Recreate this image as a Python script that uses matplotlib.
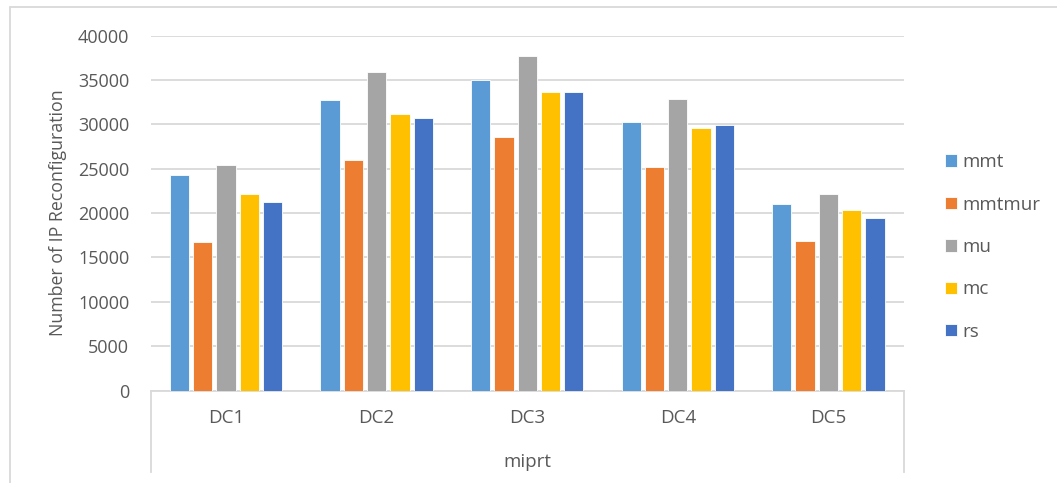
import matplotlib
matplotlib.use("Agg")
import matplotlib.pyplot as plt
from matplotlib.lines import Line2D
from matplotlib.patches import Rectangle
import numpy as np

categories = ["DC1", "DC2", "DC3", "DC4", "DC5"]
series_names = ["mmt", "mmtmur", "mu", "mc", "rs"]
mmt = [24300, 32800, 35000, 30300, 21000]
mmtmur = [16700, 26000, 28600, 25200, 16900]
mu = [25400, 35900, 37700, 32900, 22100]
mc = [22100, 31200, 33600, 29600, 20300]
rs = [21200, 30700, 33600, 29900, 19400]
group_title = "miprt"
y_label = "Number of IP Reconfiguration"
y_ticks = [0, 5000, 10000, 15000, 20000, 25000, 30000, 35000, 40000]

colors = ["#5B9BD5", "#ED7D31", "#A5A5A5", "#FFC000", "#4472C4"]
text_color = "#595959"
grid_color = "#D9D9D9"

plt.rcParams["font.family"] = ["Open Sans", "DejaVu Sans"]

W, H = 1057, 483
fig = plt.figure(figsize=(W / 100, H / 100), dpi=100)
ax_left, ax_right = 150.7 / W, 903.7 / W
ax_bottom, ax_top = 1 - 390.5 / H, 1 - 35.7 / H
ax = fig.add_axes([ax_left, ax_bottom, ax_right - ax_left, ax_top - ax_bottom])

x = np.arange(len(categories))
step = 0.1547
width = 0.128
values = [mmt, mmtmur, mu, mc, rs]
for i, (name, vals, col) in enumerate(zip(series_names, values, colors)):
    offset = (i - 2) * step
    ax.bar(x + offset, vals, width=width, color=col, edgecolor="white",
           linewidth=0.6, label=name, zorder=3)

ax.set_xlim(-0.5, len(categories) - 0.5)
ax.set_ylim(0, 40000)
ax.set_yticks(y_ticks)
ax.set_yticklabels([str(t) for t in y_ticks])
ax.tick_params(axis="y", length=0, pad=15.5, labelsize=13, labelcolor=text_color)
ax.set_xticks([])
ax.grid(axis="y", color=grid_color, linewidth=1.3, zorder=0)
for s in ["top", "right", "left"]:
    ax.spines[s].set_visible(False)
ax.spines["bottom"].set_color(grid_color)
ax.spines["bottom"].set_linewidth(1.3)

ax.set_ylabel(y_label, fontsize=12.8, color=text_color, labelpad=8)

# multi-level category axis box
ax_h_px = (ax_top - ax_bottom) * H
box_depth = (472 - 390.5) / ax_h_px
for xa in [0, 1]:
    ax.add_line(Line2D([xa, xa], [0, -box_depth], transform=ax.transAxes,
                       color=grid_color, linewidth=1.3, clip_on=False))
for xi, cat in zip(x, categories):
    ax.text(xi, -(418 - 390.5) / ax_h_px, cat,
            transform=ax.get_xaxis_transform(), ha="center", va="center",
            fontsize=13.5, color=text_color)
ax.text(0.5, -(462 - 390.5) / ax_h_px, group_title,
        transform=ax.transAxes, ha="center", va="center",
        fontsize=13.5, color=text_color)

leg = ax.legend(loc="center left", bbox_to_anchor=(945 / W, 1 - 247 / H),
                bbox_transform=fig.transFigure, frameon=False, fontsize=13.5,
                handlelength=0.64, handleheight=0.64, handletextpad=0.3,
                labelspacing=1.3, borderpad=0, borderaxespad=0)
for t in leg.get_texts():
    t.set_color(text_color)

# chart area outline
fig.patches.append(Rectangle((9.5 / W, -0.05), 1.2, 1 - 6.5 / H + 0.05,
                             transform=fig.transFigure, fill=False,
                             edgecolor=grid_color, linewidth=1.3))

fig.savefig("out.png", dpi=100)
